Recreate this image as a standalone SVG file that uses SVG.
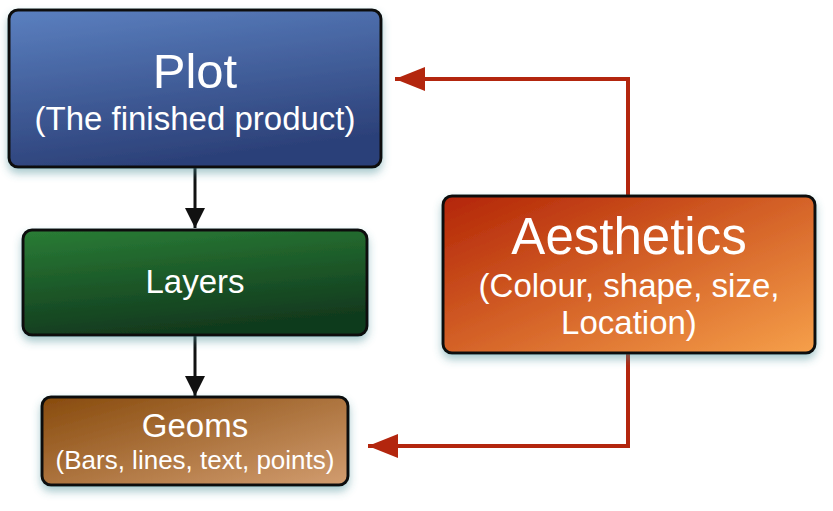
<svg xmlns="http://www.w3.org/2000/svg" width="833" height="511" viewBox="0 0 833 511">
<defs>
<style>
.box{stroke:#111;stroke-width:3;filter:url(#sh)}
text{font-family:"Liberation Sans",Arial,sans-serif;fill:#fff;text-anchor:middle}
.blk{stroke:#111;stroke-width:3;fill:none}
.red{stroke:#b3260e;stroke-width:4;fill:none}
</style>
<filter id="sh" x="-10%" y="-10%" width="120%" height="130%">
<feDropShadow dx="0" dy="5" stdDeviation="4" flood-color="#3f8a92" flood-opacity="0.45"/>
</filter>
<linearGradient id="gPlot" x1="0" y1="0" x2="0.3" y2="1">
<stop offset="0" stop-color="#5b80c0"/><stop offset="1" stop-color="#2c4179"/>
</linearGradient>
<linearGradient id="gLay" x1="0" y1="0" x2="0.3" y2="1">
<stop offset="0" stop-color="#2a7d35"/><stop offset="1" stop-color="#113a1e"/>
</linearGradient>
<linearGradient id="gGeo" x1="0" y1="0" x2="1" y2="1">
<stop offset="0" stop-color="#874a0c"/><stop offset="1" stop-color="#d29d70"/>
</linearGradient>
<linearGradient id="gAes" x1="0" y1="0" x2="1" y2="1">
<stop offset="0" stop-color="#b32506"/><stop offset="1" stop-color="#f6a04a"/>
</linearGradient>
<marker id="ab" markerUnits="userSpaceOnUse" markerWidth="20" markerHeight="20" refX="20" refY="10" orient="auto">
<path d="M0,0 L20,10 L0,20 Z" fill="#111"/>
</marker>
<marker id="ar" markerUnits="userSpaceOnUse" markerWidth="30" markerHeight="24" refX="30" refY="12" orient="auto">
<path d="M0,0 L30,12 L0,24 Z" fill="#b3260e"/>
</marker>
</defs>
<g id="connectors">
<line class="blk" x1="195" y1="168" x2="195" y2="228" marker-end="url(#ab)"/>
<line class="blk" x1="195" y1="336" x2="195" y2="396" marker-end="url(#ab)"/>
<polyline class="red" points="628,196 628,79 395,79" marker-end="url(#ar)"/>
<polyline class="red" points="628,353 628,446 368,446" marker-end="url(#ar)"/>
</g>
<g id="plot">
<rect class="box" x="9" y="10" width="372" height="157" rx="9" fill="url(#gPlot)"/>
<text x="195" y="88" font-size="49">Plot</text>
<text x="195" y="130" font-size="33">(The finished product)</text>
</g>
<g id="layers">
<rect class="box" x="23" y="230" width="344" height="105" rx="9" fill="url(#gLay)"/>
<text x="195" y="293" font-size="33">Layers</text>
</g>
<g id="geoms">
<rect class="box" x="42" y="397" width="306" height="88" rx="9" fill="url(#gGeo)"/>
<text x="195" y="437" font-size="33">Geoms</text>
<text x="195" y="469" font-size="26">(Bars, lines, text, points)</text>
</g>
<g id="aesthetics">
<rect class="box" x="443" y="196" width="372" height="157" rx="9" fill="url(#gAes)"/>
<text x="629" y="254" font-size="51">Aesthetics</text>
<text x="629" y="297" font-size="33">(Colour, shape, size,</text>
<text x="629" y="334" font-size="33">Location)</text>
</g>
</svg>
